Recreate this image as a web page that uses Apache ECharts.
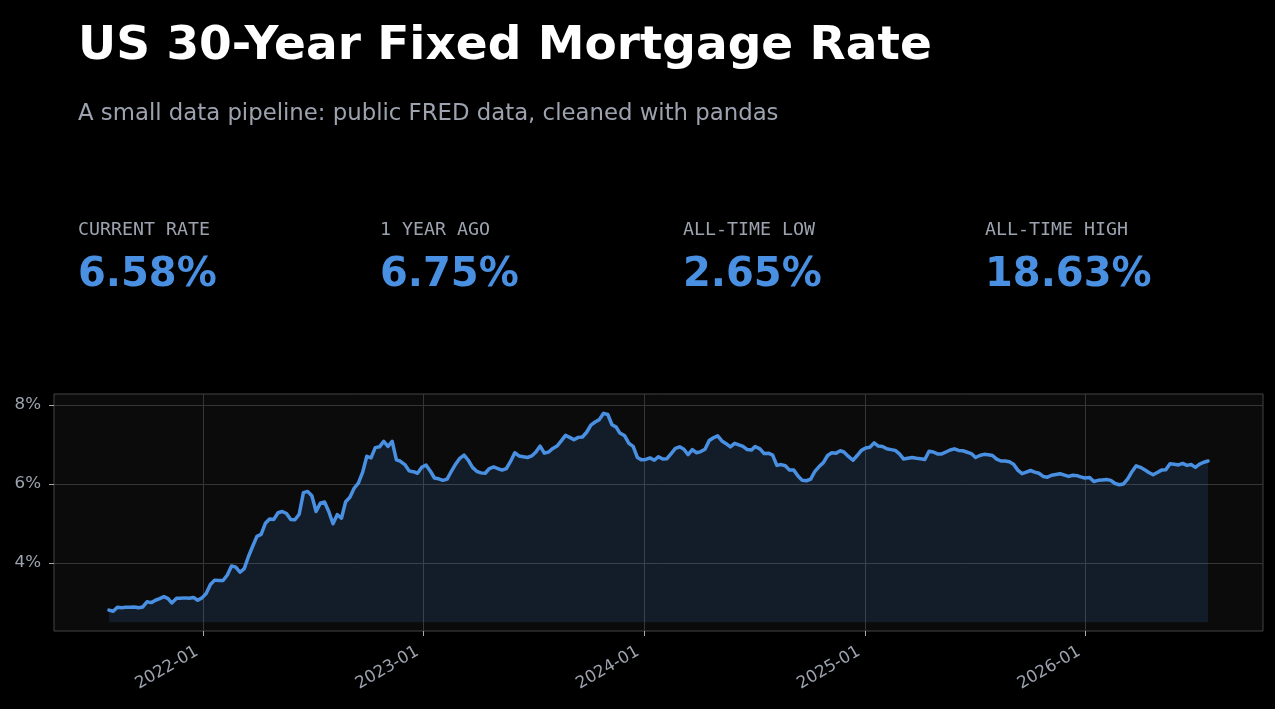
<!DOCTYPE html>
<html>
<head>
<meta charset="utf-8">
<script src="https://cdn.jsdelivr.net/npm/echarts@6/dist/echarts.min.js"></script>
<style>
html,body{margin:0;padding:0;background:#000;}
#chart{width:1275px;height:709px;}
</style>
</head>
<body>
<div id="chart"></div>
<script>
// ---- data ----
const dates = [
'2021-07-29','2021-08-05','2021-08-12','2021-08-19','2021-08-26','2021-09-02','2021-09-09','2021-09-16','2021-09-23','2021-09-30',
'2021-10-07','2021-10-14','2021-10-21','2021-10-28','2021-11-04','2021-11-10','2021-11-18','2021-11-24','2021-12-02','2021-12-09',
'2021-12-16','2021-12-23','2021-12-30',
'2022-01-06','2022-01-13','2022-01-20','2022-01-27','2022-02-03','2022-02-10','2022-02-17','2022-02-24','2022-03-03','2022-03-10',
'2022-03-17','2022-03-24','2022-03-31','2022-04-07','2022-04-14','2022-04-21','2022-04-28','2022-05-05','2022-05-12','2022-05-19',
'2022-05-26','2022-06-02','2022-06-09','2022-06-16','2022-06-23','2022-06-30','2022-07-07','2022-07-14','2022-07-21','2022-07-28',
'2022-08-04','2022-08-11','2022-08-18','2022-08-25','2022-09-01','2022-09-08','2022-09-15','2022-09-22','2022-09-29','2022-10-06',
'2022-10-13','2022-10-20','2022-10-27','2022-11-03','2022-11-10','2022-11-17','2022-11-23','2022-12-01','2022-12-08','2022-12-15',
'2022-12-22','2022-12-29',
'2023-01-05','2023-01-12','2023-01-19','2023-01-26','2023-02-02','2023-02-09','2023-02-16','2023-02-23','2023-03-02','2023-03-09',
'2023-03-16','2023-03-23','2023-03-30','2023-04-06','2023-04-13','2023-04-20','2023-04-27','2023-05-04','2023-05-11','2023-05-18',
'2023-05-25','2023-06-01','2023-06-08','2023-06-15','2023-06-22','2023-06-29','2023-07-06','2023-07-13','2023-07-20','2023-07-27',
'2023-08-03','2023-08-10','2023-08-17','2023-08-24','2023-08-31','2023-09-07','2023-09-14','2023-09-21','2023-09-28','2023-10-05',
'2023-10-12','2023-10-19','2023-10-26','2023-11-02','2023-11-09','2023-11-16','2023-11-22','2023-11-30','2023-12-07','2023-12-14',
'2023-12-21','2023-12-28',
'2024-01-04','2024-01-11','2024-01-18','2024-01-25','2024-02-01','2024-02-08','2024-02-15','2024-02-22','2024-02-29','2024-03-07',
'2024-03-14','2024-03-21','2024-03-28','2024-04-04','2024-04-11','2024-04-18','2024-04-25','2024-05-02','2024-05-09','2024-05-16',
'2024-05-23','2024-05-30','2024-06-06','2024-06-13','2024-06-20','2024-06-27','2024-07-03','2024-07-11','2024-07-18','2024-07-25',
'2024-08-01','2024-08-08','2024-08-15','2024-08-22','2024-08-29','2024-09-05','2024-09-12','2024-09-19','2024-09-26','2024-10-03',
'2024-10-10','2024-10-17','2024-10-24','2024-10-31','2024-11-07','2024-11-14','2024-11-21','2024-11-27','2024-12-05','2024-12-12',
'2024-12-19','2024-12-26',
'2025-01-02','2025-01-09','2025-01-16','2025-01-23','2025-01-30','2025-02-06','2025-02-13','2025-02-20','2025-02-27','2025-03-06',
'2025-03-13','2025-03-20','2025-03-27','2025-04-03','2025-04-10','2025-04-17','2025-04-24','2025-05-01','2025-05-08','2025-05-15',
'2025-05-22','2025-05-29','2025-06-05','2025-06-12','2025-06-18','2025-06-26','2025-07-03','2025-07-10','2025-07-17','2025-07-24',
'2025-07-31','2025-08-07','2025-08-14','2025-08-21','2025-08-28','2025-09-04','2025-09-11','2025-09-18','2025-09-25','2025-10-02',
'2025-10-09','2025-10-16','2025-10-23','2025-10-30','2025-11-06','2025-11-13','2025-11-20','2025-11-26','2025-12-04','2025-12-11',
'2025-12-18','2025-12-24','2025-12-31',
'2026-01-08','2026-01-15','2026-01-22','2026-01-29','2026-02-05','2026-02-12','2026-02-19','2026-02-26','2026-03-05','2026-03-12',
'2026-03-19','2026-03-26','2026-04-02','2026-04-09','2026-04-16','2026-04-23','2026-04-30','2026-05-07','2026-05-14','2026-05-21',
'2026-05-28','2026-06-04','2026-06-11','2026-06-18','2026-06-25','2026-07-02','2026-07-09','2026-07-16','2026-07-23'
];
const rates = [
2.80,2.77,2.87,2.86,2.87,2.87,2.88,2.86,2.88,3.01,
2.99,3.05,3.09,3.14,3.09,2.98,3.10,3.10,3.11,3.10,
3.12,3.05,3.11,
3.22,3.45,3.56,3.55,3.55,3.69,3.92,3.89,3.76,3.85,
4.16,4.42,4.67,4.72,5.00,5.11,5.10,5.27,5.30,5.25,
5.10,5.09,5.23,5.78,5.81,5.70,5.30,5.51,5.54,5.30,
4.99,5.22,5.13,5.55,5.66,5.89,6.02,6.29,6.70,6.66,
6.92,6.94,7.08,6.95,7.08,6.61,6.58,6.49,6.33,6.31,
6.27,6.42,
6.48,6.33,6.15,6.13,6.09,6.12,6.32,6.50,6.65,6.73,
6.60,6.42,6.32,6.28,6.27,6.39,6.43,6.39,6.35,6.39,
6.57,6.79,6.71,6.69,6.67,6.71,6.81,6.96,6.78,6.81,
6.90,6.96,7.09,7.23,7.18,7.12,7.18,7.19,7.31,7.49,
7.57,7.63,7.79,7.76,7.50,7.44,7.29,7.22,7.03,6.95,
6.67,6.61,
6.62,6.66,6.60,6.69,6.63,6.64,6.77,6.90,6.94,6.88,
6.74,6.87,6.79,6.82,6.88,7.10,7.17,7.22,7.09,7.02,
6.94,7.03,6.99,6.95,6.87,6.86,6.95,6.89,6.77,6.78,
6.73,6.47,6.49,6.46,6.35,6.35,6.20,6.09,6.08,6.12,
6.32,6.44,6.54,6.72,6.79,6.78,6.84,6.81,6.69,6.60,
6.72,6.85,
6.91,6.93,7.04,6.96,6.95,6.89,6.87,6.85,6.76,6.63,
6.65,6.67,6.65,6.64,6.62,6.83,6.81,6.76,6.76,6.81,
6.86,6.89,6.85,6.84,6.81,6.77,6.67,6.72,6.75,6.74,
6.72,6.63,6.58,6.58,6.56,6.50,6.35,6.26,6.30,6.34,
6.30,6.27,6.19,6.17,6.22,6.24,6.26,6.23,6.19,6.22,
6.21,6.18,6.15,
6.16,6.06,6.09,6.10,6.11,6.09,6.01,5.98,6.00,6.13,
6.31,6.46,6.42,6.36,6.29,6.23,6.29,6.35,6.36,6.51,
6.50,6.48,6.52,6.47,6.49,6.42,6.50,6.55,6.58
];
const yTicks = [4, 6, 8];
const xTickDates = ['2022-01-01','2023-01-01','2024-01-01','2025-01-01','2026-01-01'];
const xRange = ['2021-04-29','2026-10-22'];
const yRange = [2.27, 8.28];
const fillBase = 2.49;
const kpiLabels = ['CURRENT RATE','1 YEAR AGO','ALL-TIME LOW','ALL-TIME HIGH'];
const kpiValues = ['6.58%','6.75%','2.65%','18.63%'];
const titleText = 'US 30-Year Fixed Mortgage Rate';
const subtitleText = 'A small data pipeline: public FRED data, cleaned with pandas';

// ---- chart ----
function ts(s){ const p = s.split('-').map(Number); return Date.UTC(p[0], p[1]-1, p[2]); }
const seriesData = dates.map((d,i) => [ts(d), rates[i]]);
const xTicks = xTickDates.map(ts);
function pad(n){ return (n<10?'0':'')+n; }

const BLUE = '#4a90e2';
const GRAY = '#9ca3af';
const kpiX = [78, 380, 683, 985];

const graphics = [
  {type:'text', left:78, top:23, style:{text:titleText, fill:'#ffffff', font:'bold 47px "DejaVu Sans"'}},
  {type:'text', left:78, top:103, style:{text:subtitleText, fill:GRAY, font:'22.8px "DejaVu Sans"'}}
];
kpiLabels.forEach((t,i)=>{
  graphics.push({type:'text', left:kpiX[i], top:221, style:{text:t, fill:GRAY, font:'18.3px "DejaVu Sans Mono"'}});
  graphics.push({type:'text', left:kpiX[i], top:256, style:{text:kpiValues[i], fill:BLUE, font:'bold 40px "DejaVu Sans"'}});
});

const chart = echarts.init(document.getElementById('chart'), null, {renderer:'canvas'});
chart.setOption({
  backgroundColor:'#000000',
  animation:false,
  graphic: graphics,
  grid:{left:54, top:394, width:1209, height:237, show:true, backgroundColor:'#0b0b0b', borderColor:'#444444', borderWidth:1, containLabel:false},
  xAxis:{
    type:'value', min:ts(xRange[0]), max:ts(xRange[1]),
    axisLine:{show:false},
    axisTick:{show:true, length:5, lineStyle:{color:'#aaaaaa'}, customValues:xTicks},
    axisLabel:{color:GRAY, fontSize:16.7, fontFamily:'DejaVu Sans', rotate:30, margin:16, padding:[0,7,0,0], customValues:xTicks,
      formatter:(v)=>{ const d=new Date(v); return d.getUTCFullYear()+'-'+pad(d.getUTCMonth()+1); }},
    splitLine:{show:true, lineStyle:{color:'#363636', width:1}}
  },
  yAxis:{
    type:'value', min:yRange[0], max:yRange[1],
    axisLine:{show:false},
    axisTick:{show:true, length:5, lineStyle:{color:'#aaaaaa'}, customValues:yTicks},
    axisLabel:{color:GRAY, fontSize:16.7, fontFamily:'DejaVu Sans', margin:13, customValues:yTicks,
      formatter:(v)=>Math.round(v)+'%'},
    splitLine:{show:true, lineStyle:{color:'#363636', width:1}}
  },
  series:[{
    type:'line', data:seriesData, showSymbol:false, symbol:'none',
    lineStyle:{color:BLUE, width:3.5, join:'round', cap:'round'},
    areaStyle:{color:'rgba(74,144,226,0.2)', origin:fillBase},
    z:3
  }]
});
</script>
</body>
</html>
